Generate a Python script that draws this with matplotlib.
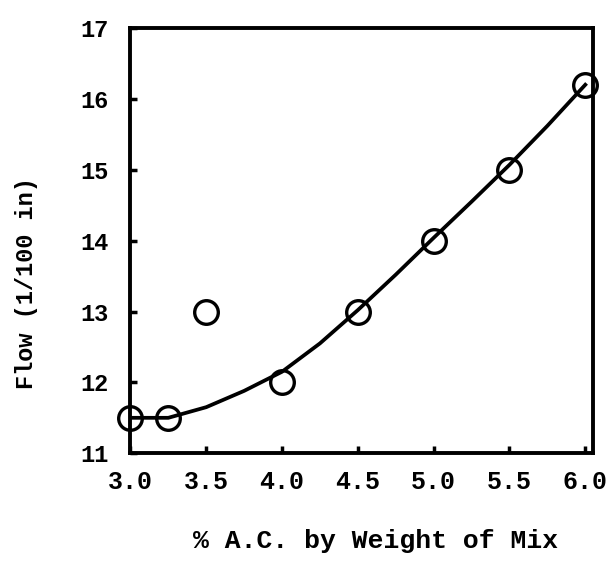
import matplotlib
matplotlib.use('Agg')
from matplotlib import pyplot as plt

# measured points (% A.C. vs flow)
ac_pct = [3.0, 3.25, 3.5, 4.0, 4.5, 5.0, 5.5, 6.0]
flow = [11.5, 11.5, 13.0, 12.0, 13.0, 14.0, 15.0, 16.2]

# hand-drawn trend line
curve_x = [3.0, 3.25, 3.5, 3.75, 4.0, 4.25, 4.5, 4.75, 5.0, 5.25, 5.5, 5.75, 6.0]
curve_y = [11.5, 11.5, 11.65, 11.88, 12.15, 12.55, 13.02, 13.52, 14.04, 14.55, 15.07, 15.62, 16.2]

x_ticks = [3.0, 3.5, 4.0, 4.5, 5.0, 5.5, 6.0]
x_ticklabels = ['3.0', '3.5', '4.0', '4.5', '5.0', '5.5', '6.0']
y_ticks = [11, 12, 13, 14, 15, 16, 17]
y_ticklabels = ['11', '12', '13', '14', '15', '16', '17']

mono = 'Liberation Mono'

fig = plt.figure(figsize=(6.15, 5.73), dpi=100)
ax = fig.add_axes([0.212, 0.209, 0.752, 0.742])

ax.plot(curve_x, curve_y, color='black', lw=2.7, zorder=2)
ax.plot(ac_pct, flow, linestyle='none', marker='o', markersize=17,
        markerfacecolor='none', markeredgecolor='black', markeredgewidth=2.4,
        clip_on=False, zorder=3)

ax.set_xlim(3.0, 6.05)
ax.set_ylim(11, 17)
ax.set_xticks(x_ticks)
ax.set_xticklabels(x_ticklabels)
ax.set_yticks(y_ticks)
ax.set_yticklabels(y_ticklabels)

for s in ax.spines.values():
    s.set_linewidth(2.8)

ax.tick_params(direction='in', length=5, width=2.5)
ax.tick_params(axis='x', pad=12, labelsize=18)
ax.tick_params(axis='y', pad=16, labelsize=17)
for lab in ax.get_xticklabels() + ax.get_yticklabels():
    lab.set_fontfamily(mono)
    lab.set_fontweight('bold')

ax.set_xlabel('% A.C. by Weight of Mix', fontfamily=mono, fontweight='bold',
              fontsize=19)
ax.xaxis.set_label_coords(0.53, -0.178)
ax.set_ylabel('Flow (1/100 in)', fontfamily=mono, fontweight='bold',
              fontsize=17)
ax.yaxis.set_label_coords(-0.20, 0.40)

fig.savefig('out.png', dpi=100)
